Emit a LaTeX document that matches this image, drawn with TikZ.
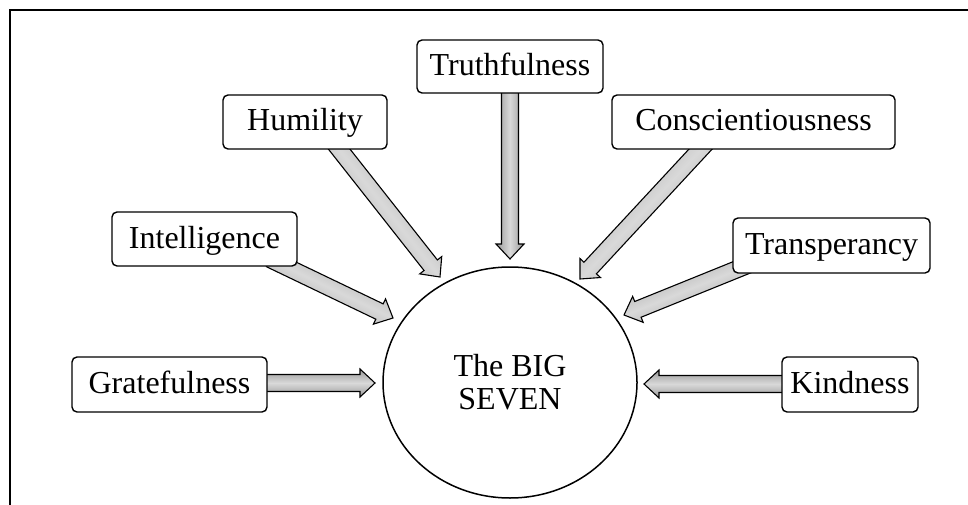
\documentclass[tikz,border=0pt]{standalone}
\usepackage{fontspec}
\setmainfont{Liberation Serif}
\usetikzlibrary{calc,shapes.geometric}
\tikzset{
  frame/.style={line width=1.7pt},
  box/.style={draw, line width=1.4pt, rounded corners=5pt, fill=white, inner sep=0pt,
    font=\fontsize{32}{36}\selectfont, text height=23pt, text depth=5pt},
  fatarr/.style={draw=black, line width=1.1pt, line join=miter,
    top color=gray!80, bottom color=gray!80, middle color=gray!30},
  bigell/.style={draw, line width=1.5pt, ellipse, inner sep=0pt, align=center,
    minimum width=254pt, minimum height=231pt, font=\fontsize{32}{33}\selectfont}
}
\newcommand\fatarrow[3][0]{%
  \coordinate (fa-c) at ($(#3)!15pt!(#2)$);
  \draw[fatarr, shading angle=#1]
    ($(#2)!8.5pt!90:(#3)$) -- ($(fa-c)!8.5pt!-90:(#2)$) -- ($(fa-c)!14pt!-90:(#2)$)
    -- (#3) -- ($(fa-c)!14pt!90:(#2)$) -- ($(fa-c)!8.5pt!90:(#2)$)
    -- ($(#2)!8.5pt!-90:(#3)$) -- cycle;
}
\begin{document}
\begin{tikzpicture}[x=1pt,y=-1pt]
\useasboundingbox (0,0) rectangle (968,505);
\draw[frame] (10,505) -- (10,10) -- (968,10);

% arrow end points
\coordinate (grat-s) at (255,383);  \coordinate (grat-t) at (375,383);
\coordinate (kind-s) at (795,384);  \coordinate (kind-t) at (644,384);
\coordinate (intel-s) at (270,259); \coordinate (intel-t) at (393,318);
\coordinate (hum-s) at (332,140);   \coordinate (hum-t) at (440,277);
\coordinate (truth-s) at (510,85);  \coordinate (truth-t) at (510,259);
\coordinate (consc-s) at (709,140); \coordinate (consc-t) at (580,279);
\coordinate (trans-s) at (750,264); \coordinate (trans-t) at (624,315);

\fatarrow[0]{grat-s}{grat-t}
\fatarrow[0]{kind-s}{kind-t}
\fatarrow[-25.6]{intel-s}{intel-t}
\fatarrow[-51.7]{hum-s}{hum-t}
\fatarrow[90]{truth-s}{truth-t}
\fatarrow[47.1]{consc-s}{consc-t}
\fatarrow[22]{trans-s}{trans-t}

\node[bigell] (big) at (510,382.5) {The BIG\\SEVEN};
\node[box, minimum width=195pt, minimum height=55pt] (grat) at (169.5,384.5) {Gratefulness};
\node[box, minimum width=185pt, minimum height=54pt] (intel) at (204.5,239) {Intelligence};
\node[box, minimum width=164pt, minimum height=54pt] (hum) at (305,122) {Humility};
\node[box, minimum width=186pt, minimum height=53pt] (truth) at (510,66.5) {Truthfulness};
\node[box, minimum width=283pt, minimum height=54pt] (consc) at (753.5,122) {Conscientiousness};
\node[box, minimum width=197pt, minimum height=55pt] (trans) at (831.5,245.5) {Transperancy};
\node[box, minimum width=136pt, minimum height=55pt] (kind) at (850,384.5) {Kindness};
\end{tikzpicture}
\end{document}
